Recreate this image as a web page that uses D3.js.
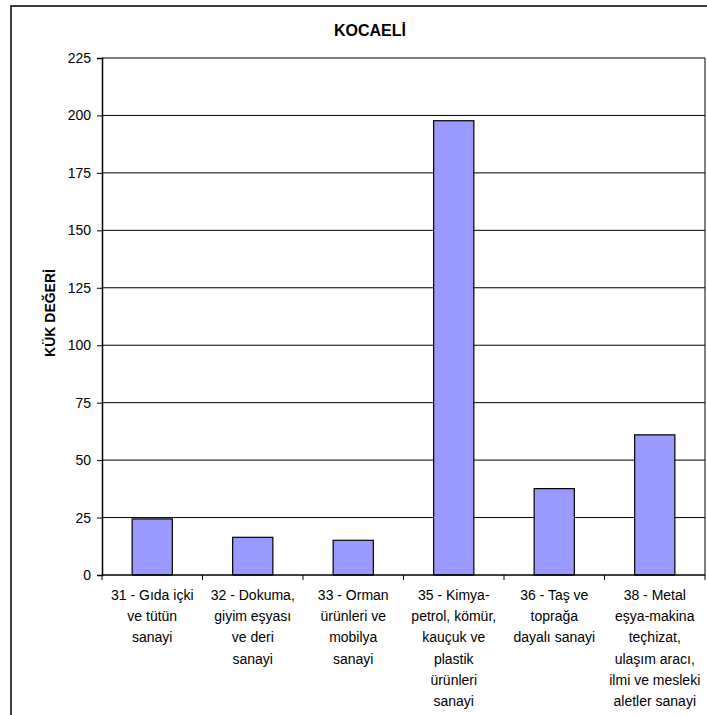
<!DOCTYPE html>
<html>
<head>
<meta charset="utf-8">
<script src="https://cdn.jsdelivr.net/npm/d3@7"></script>
<style>
  body { margin: 0; background: #fff; }
  text { font-family: Arial, "Liberation Sans", sans-serif; fill: #000; }
</style>
</head>
<body>
<div id="chart"></div>
<script>
// chart data
var title = "KOCAELİ";
var yTitle = "KÜK DEĞERİ";
var categories = ["31", "32", "33", "35", "36", "38"];
var categoryLabels = [
  ["31 - Gıda içki", "ve tütün", "sanayi"],
  ["32 - Dokuma,", "giyim eşyası", "ve deri", "sanayi"],
  ["33 - Orman", "ürünleri ve", "mobilya", "sanayi"],
  ["35 - Kimya-", "petrol, kömür,", "kauçuk ve", "plastik", "ürünleri", "sanayi"],
  ["36 - Taş ve", "toprağa", "dayalı sanayi"],
  ["38 - Metal", "eşya-makina", "teçhizat,", "ulaşım aracı,", "ilmi ve mesleki", "aletler sanayi"]
];
var values = [24.4, 16.4, 15.1, 197.7, 37.6, 61.0];
var yTicks = [0, 25, 50, 75, 100, 125, 150, 175, 200, 225];

var W = 707, H = 715;
var plot = {left: 102, right: 705, top: 58, bottom: 575};

var svg = d3.select("#chart").append("svg")
  .attr("width", W)
  .attr("height", H);

// outer chart border
svg.append("rect")
  .attr("x", 11).attr("y", 6)
  .attr("width", 720).attr("height", 730)
  .attr("fill", "none")
  .attr("stroke", "#000")
  .attr("stroke-width", 1.5);

var x = d3.scaleBand()
  .domain(categories)
  .range([plot.left, plot.right])
  .padding(0);

var y = d3.scaleLinear()
  .domain([0, 225])
  .range([plot.bottom, plot.top]);

// gridlines
svg.append("g")
  .selectAll("line")
  .data(yTicks.filter(function(d) { return d > 0; }))
  .enter()
  .append("line")
  .attr("x1", plot.left).attr("x2", plot.right)
  .attr("y1", function(d) { return y(d); })
  .attr("y2", function(d) { return y(d); })
  .attr("stroke", "#000")
  .attr("stroke-width", 1);

// right border of plot area
svg.append("line")
  .attr("x1", plot.right).attr("x2", plot.right)
  .attr("y1", plot.top).attr("y2", plot.bottom)
  .attr("stroke", "#000")
  .attr("stroke-width", 1);

// bars
var barW = x.bandwidth() * 0.4;
svg.append("g")
  .selectAll("rect")
  .data(values)
  .enter()
  .append("rect")
  .attr("x", function(d, i) { return x(categories[i]) + (x.bandwidth() - barW) / 2; })
  .attr("y", function(d) { return y(d); })
  .attr("width", barW)
  .attr("height", function(d) { return y(0) - y(d); })
  .attr("fill", "#9999FF")
  .attr("stroke", "#000")
  .attr("stroke-width", 1.2);

// y axis
var yAxis = svg.append("g")
  .attr("transform", "translate(" + plot.left + ",0)")
  .call(d3.axisLeft(y).tickValues(yTicks).tickSize(5).tickPadding(6));
yAxis.select(".domain").attr("stroke", "#000").attr("stroke-width", 1.5);
yAxis.selectAll("text")
  .style("font-family", "Arial, 'Liberation Sans', sans-serif")
  .style("font-size", "14px")
  .attr("fill", "#000");

// x axis: ticks at category boundaries
var boundaries = categories.map(function(c) { return x(c); }).concat([plot.right]);
svg.append("line")
  .attr("x1", plot.left).attr("x2", plot.right)
  .attr("y1", plot.bottom).attr("y2", plot.bottom)
  .attr("stroke", "#000")
  .attr("stroke-width", 1.5);
svg.append("g")
  .selectAll("line")
  .data(boundaries)
  .enter()
  .append("line")
  .attr("x1", function(d) { return d; })
  .attr("x2", function(d) { return d; })
  .attr("y1", plot.bottom)
  .attr("y2", plot.bottom + 5)
  .attr("stroke", "#000")
  .attr("stroke-width", 1);

// category labels
var labels = svg.append("g")
  .selectAll("text")
  .data(categoryLabels)
  .enter()
  .append("text")
  .attr("text-anchor", "middle")
  .style("font-size", "14px")
  .attr("transform", function(d, i) {
    return "translate(" + (x(categories[i]) + x.bandwidth() / 2) + "," + 600 + ")";
  });
labels.selectAll("tspan")
  .data(function(d) { return d; })
  .enter()
  .append("tspan")
  .attr("x", 0)
  .attr("y", function(d, j) { return j * 21.2; })
  .text(function(d) { return d; });

// title
svg.append("text")
  .attr("x", 370)
  .attr("y", 36)
  .attr("text-anchor", "middle")
  .style("font-size", "16px")
  .style("font-weight", "bold")
  .text(title);

// y axis title
svg.append("text")
  .attr("transform", "translate(55," + 313 + ") rotate(-90)")
  .attr("text-anchor", "middle")
  .style("font-size", "14px")
  .style("font-weight", "bold")
  .text(yTitle);
</script>
</body>
</html>
